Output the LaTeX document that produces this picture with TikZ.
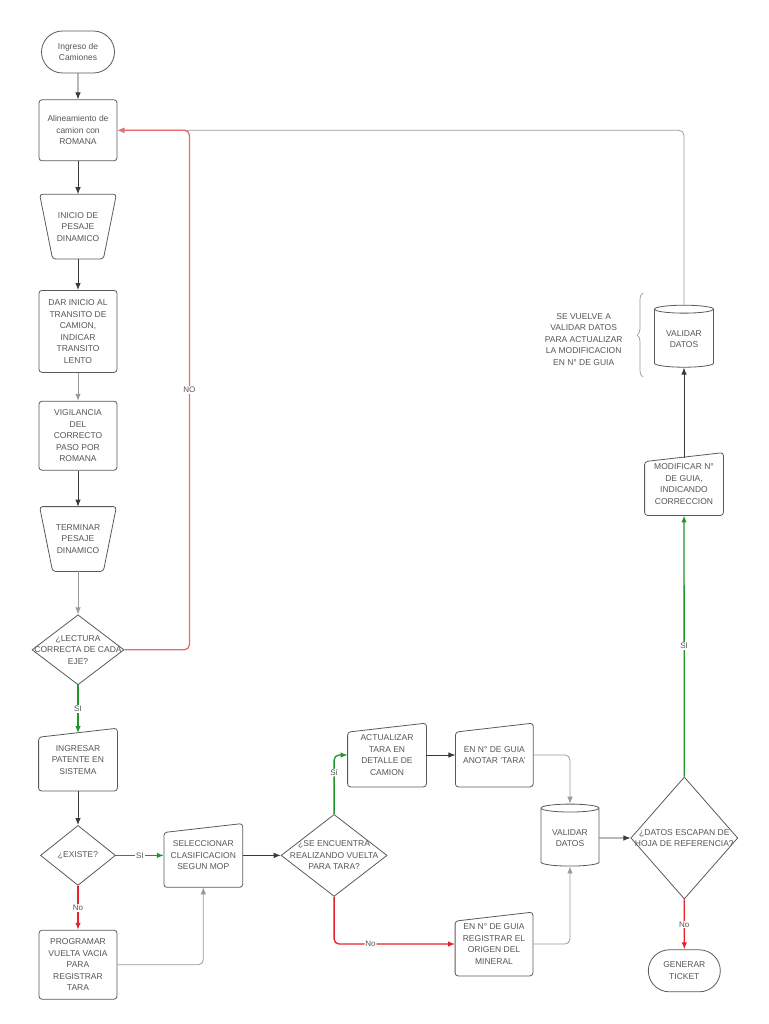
\documentclass[tikz,border=0pt]{standalone}
\usepackage{fontspec}
\setmainfont{Liberation Sans}
\usetikzlibrary{arrows.meta, positioning, shapes.geometric, shapes.misc, decorations.pathreplacing}

\definecolor{txtgray}{HTML}{555555}
\definecolor{edgegray}{HTML}{5A5A5A}
\definecolor{linedark}{HTML}{3A3A3A}
\definecolor{linelight}{HTML}{9A9A9A}
\definecolor{sigreen}{HTML}{1E9628}
\definecolor{nored}{HTML}{E8202A}
\definecolor{loopred}{HTML}{E86A6A}

\begin{document}
\begin{tikzpicture}[
  x=1pt, y=-1pt,
  >={Latex[length=7pt,width=5.5pt]},
  font=\fontsize{8.5}{11.5}\selectfont,
  shp/.style={
    draw=edgegray, line width=0.8pt, fill=white,
    text=txtgray, align=center, inner sep=2pt
  },
  box/.style={shp, rectangle, rounded corners=3pt, minimum width=78pt},
  term/.style={shp, rounded rectangle, minimum width=77pt, minimum height=42pt},
  manop/.style={box, draw=none, fill=none, minimum width=76pt, minimum height=64pt},
  minput/.style={box, draw=none, fill=none},
  outline/.style={draw=edgegray, line width=0.8pt, rounded corners=3pt},
  ask/.style={shp, diamond, inner sep=0pt},
  asktxt/.style={text=txtgray, align=center},
  store/.style={shp, cylinder, shape border rotate=90, aspect=0.2,
    minimum width=58pt, minimum height=62pt},
  flow/.style={->, draw=linedark, line width=0.8pt},
  faint/.style={->, draw=linelight, line width=0.8pt},
  yesflow/.style={->, draw=sigreen, line width=1.3pt},
  noflow/.style={->, draw=nored, line width=1.3pt},
  backflow/.style={->, draw=loopred, line width=1.3pt},
  tag/.style={fill=white, text=txtgray, inner sep=1pt, font=\fontsize{8}{9}\selectfont},
  curly/.style={decorate, decoration={brace, amplitude=6pt}, draw=linelight, line width=0.7pt},
]

\useasboundingbox (0,0) rectangle (768,1024);

% --- Left column ---
\node[term] (ingreso) at (78,52) {Ingreso de\\Camiones};
\node[box, minimum height=61pt, below=26pt of ingreso] (alinea) {Alineamiento de\\camion con\\ROMANA};
\node[manop, below=33pt of alinea] (inicio) {INICIO DE\\PESAJE\\DINAMICO};
\node[box, minimum height=82pt, below=31pt of inicio] (dar) {DAR INICIO AL\\TRANSITO DE\\CAMION,\\INDICAR\\TRANSITO\\LENTO};
\node[box, minimum height=69pt, below=28pt of dar] (vigil) {VIGILANCIA\\DEL\\CORRECTO\\PASO POR\\ROMANA};
\node[manop, below=36pt of vigil] (terminar) {TERMINAR\\PESAJE\\DINAMICO};
\node[ask, minimum width=92pt, minimum height=70pt, below=43pt of terminar,
  label={[asktxt]center:{¿LECTURA\\CORRECTA DE CADA\\EJE?}}] (lectura) {};
\node[minput, minimum height=62pt, below=43pt of lectura] (patente) {INGRESAR\\PATENTE EN\\SISTEMA};
\node[ask, minimum width=75pt, minimum height=60pt, below=34pt of patente,
  label={[asktxt]center:{¿EXISTE?}}] (existe) {};
\node[box, minimum height=69pt, below=44pt of existe] (programar) {PROGRAMAR\\VUELTA VACIA\\PARA\\REGISTRAR\\TARA};

% --- Bottom row ---
\node[minput, minimum height=63pt, right=48pt of existe] (selec) {SELECCIONAR\\CLASIFICACION\\SEGUN MOP};
\node[ask, minimum width=106pt, minimum height=82pt, right=38pt of selec,
  label={[asktxt]center:{¿SE ENCUENTRA\\REALIZANDO VUELTA\\PARA TARA?}}] (tara) {};
\node[minput, minimum height=63pt] (actual) at (387,755) {ACTUALIZAR\\TARA EN\\DETALLE DE\\CAMION};
\node[minput, minimum height=63pt, minimum width=77pt, right=29pt of actual] (anotar) {EN N° DE GUIA\\ANOTAR ‘TARA’};
\node[minput, minimum height=63pt, minimum width=77pt] (origen) at (494,944) {EN N° DE GUIA\\REGISTRAR EL\\ORIGEN DEL\\MINERAL};
\node[store] (valid1) at (570,838) {VALIDAR\\DATOS};
\node[ask, minimum width=107pt, minimum height=122pt, right=31pt of valid1,
  label={[asktxt]center:{¿DATOS ESCAPAN DE\\HOJA DE REFERENCIA?}}] (escapan) {};
\node[term, minimum width=76pt, below=50pt of escapan] (ticket) {GENERAR\\TICKET};

% --- Right column ---
\node[minput, minimum height=62pt] (modif) at (684,484) {MODIFICAR N°\\DE GUIA,\\INDICANDO\\CORRECCION};
\node[store, minimum width=59pt, above=85pt of modif] (valid2) {VALIDAR\\DATOS};
\node[text=txtgray, align=center, left=28pt of valid2] (nota) {SE VUELVE A\\VALIDAR DATOS\\PARA ACTUALIZAR\\LA MODIFICACION\\EN N° DE GUIA};
\coordinate (bracebot) at (643,377);
\coordinate (bracetop) at (643,293);
\draw[curly] (bracebot) -- (bracetop);

% manual operation outlines (narrow bottom)
\foreach \n in {inicio,terminar}
  \draw[outline]
    (\n.north west) -- (\n.north east) -- ([xshift=-13pt]\n.south east) -- ([xshift=13pt]\n.south west) -- cycle;

% manual input outlines (slanted top)
\foreach \n in {patente,selec,actual,anotar,origen,modif}
  \draw[outline]
    ([yshift=-9pt]\n.north west) -- (\n.north east) -- (\n.south east) -- (\n.south west) -- cycle;

% --- Arrows ---
\draw[flow] (ingreso) -- (alinea);
\draw[flow] (alinea) -- (inicio);
\draw[flow] (inicio) -- (dar);
\draw[faint] (dar) -- (vigil);
\draw[flow] (vigil) -- (terminar);
\draw[faint] (terminar) -- (lectura);
\draw[yesflow] (lectura) -- node[tag]{SI} ([yshift=-5pt]patente.north);
\draw[flow] (patente) -- (existe);
\draw[yesflow] (existe) -- node[tag]{SI} (selec);
\draw[noflow] (existe) -- node[tag]{No} (programar);
\draw[faint, rounded corners=5pt] (programar) -| (selec);
\draw[flow] (selec) -- (tara);
\draw[yesflow, rounded corners=5pt] (tara.north) |- node[tag, pos=0.35]{Sí} (actual);
\draw[noflow, rounded corners=5pt] (tara.south) |- node[tag, pos=0.65]{No} (origen);
\draw[flow] (actual) -- (anotar);
\draw[faint, rounded corners=5pt] (anotar) -| (valid1);
\draw[faint, rounded corners=5pt] (origen) -| (valid1);
\draw[flow] (valid1) -- (escapan);
\draw[noflow] (escapan) -- node[tag]{No} (ticket);
\draw[yesflow] (escapan) -- node[tag]{SI} (modif);
\draw[flow] ([yshift=-5pt]modif.north) -- (valid2);
\draw[faint, rounded corners=5pt] (valid2) |- (alinea);
\draw[backflow, rounded corners=5pt] (lectura.east) -- ++(65,0) |- node[tag, pos=0.25]{NO} (alinea);

\end{tikzpicture}
\end{document}
